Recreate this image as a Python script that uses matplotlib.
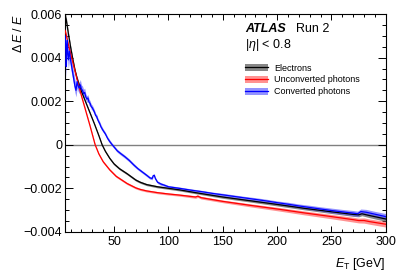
import matplotlib
matplotlib.use("Agg")
import matplotlib.pyplot as plt
from matplotlib.patches import Patch
from matplotlib.lines import Line2D
from matplotlib.ticker import MultipleLocator, FuncFormatter

plt.rcParams['font.family'] = ['Liberation Sans', 'DejaVu Sans']
plt.rcParams['mathtext.fontset'] = 'custom'
plt.rcParams['mathtext.it'] = 'Liberation Sans:italic'
plt.rcParams['mathtext.rm'] = 'Liberation Sans'

# E_T [GeV] and Delta E / E (x 1e-3)
el_et = [5, 6, 8, 10, 12, 14, 16, 20, 24, 28, 32, 36, 39, 42, 46, 50, 55, 62, 70,
         74, 80, 90, 100, 110, 125, 150, 175, 200, 225, 250, 270, 275, 278, 285, 300]
el_val = [5.9, 5.75, 5.1, 4.5, 3.95, 3.45, 3.05, 2.45, 1.95, 1.45, 0.95, 0.42, 0.0, -0.3,
          -0.62, -0.88, -1.1, -1.33, -1.62, -1.72, -1.83, -1.93, -2.0, -2.07, -2.2, -2.4,
          -2.57, -2.74, -2.92, -3.08, -3.2, -3.22, -3.17, -3.25, -3.41]
el_err = [0.2, 0.15, 0.1, 0.08, 0.07, 0.06, 0.06, 0.05, 0.05, 0.05, 0.05, 0.05, 0.05, 0.05,
          0.05, 0.05, 0.05, 0.05, 0.05, 0.05, 0.05, 0.05, 0.05, 0.05, 0.05, 0.06,
          0.06, 0.07, 0.07, 0.08, 0.09, 0.09, 0.09, 0.1, 0.11]

unc_et = [5, 6, 8, 10, 12, 14, 16, 20, 24, 28, 32.6, 36, 40, 46, 52, 62, 70, 74, 80, 90,
          100, 110, 125, 127, 130, 150, 175, 200, 225, 250, 270, 275, 280, 285, 300]
unc_val = [5.25, 5.05, 4.6, 4.2, 3.8, 3.4, 3.0, 2.25, 1.55, 0.85, 0.0, -0.42, -0.78,
           -1.15, -1.45, -1.78, -1.98, -2.05, -2.12, -2.2, -2.26, -2.31, -2.4, -2.36,
           -2.43, -2.6, -2.78, -2.95, -3.13, -3.3, -3.44, -3.48, -3.48, -3.53, -3.65]
unc_err = [0.1, 0.08, 0.06, 0.05, 0.05, 0.05, 0.05, 0.05, 0.05, 0.05, 0.05, 0.05, 0.05,
           0.05, 0.05, 0.05, 0.05, 0.05, 0.05, 0.05, 0.05, 0.05, 0.06, 0.06, 0.06,
           0.06, 0.07, 0.08, 0.09, 0.1, 0.11, 0.11, 0.12, 0.12, 0.13]

con_et = [5, 5.5, 6, 6.5, 7, 7.5, 8, 9, 10, 11, 12, 13, 14, 15, 16, 17, 18, 19, 20, 21,
          22, 23, 24, 25, 26, 27, 28, 29, 30, 31, 32, 33, 34, 35, 36, 37, 38, 40, 42,
          44, 46, 48, 50, 53, 56, 60, 64, 68, 72, 76, 80, 83, 85, 86, 87, 88, 90, 93,
          97, 100, 110, 120, 130, 140, 150, 160, 170, 180, 190, 200, 210, 220, 230,
          240, 250, 260, 270, 274, 277, 282, 290, 300]
con_val = [5.0, 4.6, 3.6, 4.3, 4.8, 4.2, 3.9, 4.3, 3.9, 3.6, 3.3, 3.0, 2.7, 2.5, 2.9,
           2.7, 2.6, 2.75, 2.55, 2.5, 2.35, 2.4, 2.2, 2.1, 2.15, 1.95, 1.9, 1.75, 1.7,
           1.6, 1.5, 1.35, 1.3, 1.15, 1.05, 0.95, 0.82, 0.65, 0.5, 0.3, 0.15, 0.02,
           -0.1, -0.28, -0.4, -0.55, -0.72, -0.92, -1.1, -1.25, -1.4, -1.52, -1.55,
           -1.42, -1.4, -1.55, -1.72, -1.8, -1.87, -1.93, -2.0, -2.08, -2.15, -2.23,
           -2.3, -2.37, -2.44, -2.51, -2.58, -2.66, -2.73, -2.81, -2.88, -2.95, -3.02,
           -3.08, -3.14, -3.17, -3.07, -3.1, -3.19, -3.3]
con_err = [0.4, 0.45, 0.5, 0.5, 0.45, 0.45, 0.4, 0.4, 0.35, 0.35, 0.3, 0.3, 0.3, 0.3,
           0.3, 0.25, 0.25, 0.25, 0.2, 0.2, 0.2, 0.2, 0.15, 0.15, 0.15, 0.15, 0.12,
           0.12, 0.12, 0.12, 0.1, 0.1, 0.1, 0.1, 0.1, 0.1, 0.1, 0.08, 0.08, 0.08,
           0.08, 0.07, 0.07, 0.07, 0.07, 0.07, 0.07, 0.07, 0.06, 0.06, 0.06, 0.06,
           0.06, 0.06, 0.06, 0.06, 0.06, 0.06, 0.06, 0.06, 0.06, 0.06, 0.06, 0.06,
           0.07, 0.07, 0.07, 0.08, 0.08, 0.08, 0.09, 0.09, 0.1, 0.1, 0.11, 0.11,
           0.12, 0.12, 0.12, 0.13, 0.13, 0.14]

series = [
    ("Electrons", el_et, el_val, el_err, "#000000", "#555555"),
    ("Unconverted photons", unc_et, unc_val, unc_err, "#ff0000", "#ff6666"),
    ("Converted photons", con_et, con_val, con_err, "#0000ff", "#6666ff"),
]

fig = plt.figure(figsize=(4.07, 2.77), dpi=100)
ax = fig.add_axes([0.16, 0.163, 0.788, 0.786])

ax.axhline(0, color="#808080", lw=1.0, zorder=1)

handles = []
for name, et, val, err, lc, bc in series:
    y = [v * 1e-3 for v in val]
    lo = [(v - e) * 1e-3 for v, e in zip(val, err)]
    hi = [(v + e) * 1e-3 for v, e in zip(val, err)]
    ax.fill_between(et, lo, hi, color=bc, alpha=0.7, lw=0, zorder=2)
    ax.plot(et, y, color=lc, lw=0.9, zorder=3)
    handles.append((Patch(facecolor=bc, alpha=0.7, lw=0), Line2D([], [], color=lc, lw=0.9)))

ax.set_xlim(5, 300)
ax.set_ylim(-0.004, 0.006)
ax.xaxis.set_major_locator(MultipleLocator(50))
ax.xaxis.set_minor_locator(MultipleLocator(10))
ax.yaxis.set_major_locator(MultipleLocator(0.002))
ax.yaxis.set_minor_locator(MultipleLocator(0.0005))
ax.yaxis.set_major_formatter(FuncFormatter(
    lambda v, p: "0" if abs(v) < 1e-9 else ("%.3f" % v).replace("-", "\u2212")))
ax.tick_params(which="both", direction="in", top=True, right=True, labelsize=9, width=0.7)
ax.tick_params(axis="x", which="major", length=4.5, pad=3)
ax.tick_params(axis="x", which="minor", length=2.2)
ax.tick_params(axis="y", which="major", length=6, pad=2)
ax.tick_params(axis="y", which="minor", length=3)
for s in ax.spines.values():
    s.set_linewidth(0.8)

ax.set_ylabel(r"$\Delta\,E\ /\ E$", loc="top", fontsize=9)
ax.yaxis.set_label_coords(-0.125, 1.0)
ax.set_xlabel(r"$E_{\rm T}$ [GeV]", loc="right", fontsize=9, labelpad=6)

ax.text(0.561, 0.931, "ATLAS", transform=ax.transAxes, fontsize=9, weight="bold",
        style="italic", va="center")
ax.text(0.72, 0.931, "Run 2", transform=ax.transAxes, fontsize=9, va="center")
ax.text(0.561, 0.858, r"|$\eta$| < 0.8", transform=ax.transAxes, fontsize=9, va="center")

ax.legend(handles, [s[0] for s in series], loc="upper left", bbox_to_anchor=(0.561, 0.772),
          frameon=False, fontsize=6.5, handlelength=2.55, handleheight=0.8,
          labelspacing=0.3, borderpad=0, borderaxespad=0, handletextpad=0.65)

fig.savefig("out.png", dpi=100)
